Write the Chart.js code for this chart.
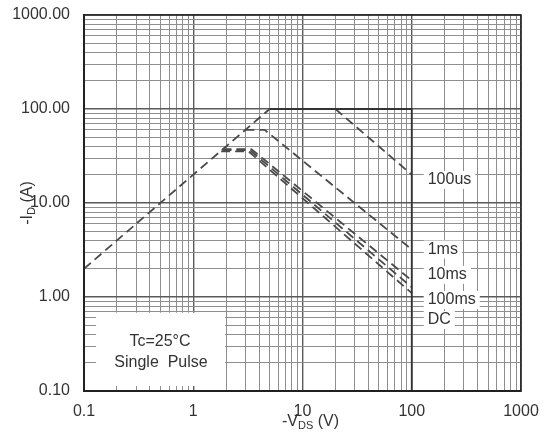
<!DOCTYPE html>
<html>
<head>
<meta charset="utf-8">
<script src="https://cdn.jsdelivr.net/npm/chart.js@4"></script>
<style>
  html, body { margin: 0; padding: 0; background: #fff; }
  #wrap { width: 546px; height: 439px; }
</style>
</head>
<body>
<div id="wrap"><canvas id="soaChart"></canvas></div>
<script>
// values
var xTickLabels = ['0.1', '1', '10', '100', '1000'];
var yTickLabels = ['0.10', '1.00', '10.00', '100.00', '1000.00'];

var limitLine = [{x: 0.1, y: 2}, {x: 5, y: 100}];          // Rds(on) limit, dashed
var boundLine = [{x: 5, y: 100}, {x: 100, y: 100}, {x: 100, y: 0.1}]; // solid edge
var us100 = [{x: 20, y: 100}, {x: 100, y: 20}];
var ms1 = [{x: 3, y: 60}, {x: 4.5, y: 60}, {x: 100, y: 3.2}];
var ms10 = [{x: 1.85, y: 37.5}, {x: 3.4, y: 37.5}, {x: 100, y: 1.5}];
var ms100 = [{x: 1.85, y: 36.5}, {x: 3.3, y: 36.5}, {x: 100, y: 1.27}];
var dcLine = [{x: 1.8, y: 35.5}, {x: 3.2, y: 35.5}, {x: 100, y: 1.1}];

var curveNames = ['100us', '1ms', '10ms', '100ms', 'DC'];
var curveLabelY = [17.6, 3.2, 1.72, 0.93, 0.57];

var noteLines = ['Tc=25\u00B0C', 'Single  Pulse'];

var FONT = "'Liberation Sans', Arial, sans-serif";
var TEXT = '#333';
var LINE = '#4a4a4a';

// log grid: 1..9 in every decade
function logGrid(lo, hi) {
    var out = [];
    for (var e = lo; e < hi; e++) {
        for (var k = 1; k < 10; k++) out.push(k * Math.pow(10, e));
    }
    out.push(Math.pow(10, hi));
    return out;
}
function isMajor(v) {
    var l = Math.log10(v);
    return Math.abs(l - Math.round(l)) < 1e-9;
}
function dashed(data) {
    return { data: data, showLine: true, borderColor: LINE, borderWidth: 1.8,
             borderDash: [9, 5], pointRadius: 0, fill: false };
}

var overlay = {
    id: 'overlay',
    afterDatasetsDraw: function(chart) {
        var c = chart.ctx, a = chart.chartArea;
        var xs = chart.scales.x, ys = chart.scales.y;
        c.save();

        // frame
        c.strokeStyle = '#222';
        c.lineWidth = 1.5;
        c.strokeRect(a.left, a.top, a.right - a.left, a.bottom - a.top);

        c.font = '16px ' + FONT;
        c.fillStyle = TEXT;
        c.textBaseline = 'middle';

        // curve names with white boxes
        c.textAlign = 'left';
        curveNames.forEach(function(name, i) {
            var px = xs.getPixelForValue(140);
            var py = ys.getPixelForValue(curveLabelY[i]);
            var w = c.measureText(name).width;
            c.fillStyle = '#fff';
            c.fillRect(px - 4, py - 9, w + 8, 18);
            c.fillStyle = TEXT;
            c.fillText(name, px, py);
        });

        // note box
        var bx0 = xs.getPixelForValue(0.129), bx1 = xs.getPixelForValue(2) - 1;
        var by0 = ys.getPixelForValue(0.68), by1 = ys.getPixelForValue(0.113);
        c.fillStyle = '#fff';
        c.fillRect(bx0, by0, bx1 - bx0, by1 - by0);
        c.fillStyle = TEXT;
        c.textAlign = 'center';
        c.fillText(noteLines[0], 160, 342);
        c.fillText(noteLines[1], 161, 363);

        // x title: -V_DS (V)
        var big = '16px ' + FONT, small = '11px ' + FONT;
        var parts = [['-V', big, 0], ['DS', small, 4], [' (V)', big, 0]];
        var tw = 0;
        parts.forEach(function(p) { c.font = p[1]; tw += c.measureText(p[0]).width; });
        var tx = (a.left + a.right) / 2 + 8 - tw / 2, ty = 422;
        c.textAlign = 'left';
        parts.forEach(function(p) {
            c.font = p[1];
            c.fillText(p[0], tx, ty + p[2]);
            tx += c.measureText(p[0]).width;
        });

        // y title: -I_D (A), rotated
        var yparts = [['-I', big, 0], ['D', small, 4], [' (A)', big, 0]];
        var th = 0;
        yparts.forEach(function(p) { c.font = p[1]; th += c.measureText(p[0]).width; });
        c.translate(28, (a.top + a.bottom) / 2);
        c.rotate(-Math.PI / 2);
        var sx = -th / 2;
        yparts.forEach(function(p) {
            c.font = p[1];
            c.fillText(p[0], sx, p[2]);
            sx += c.measureText(p[0]).width;
        });
        c.restore();
    }
};

function axis(pos, lo, hi, labels) {
    return {
        type: 'logarithmic',
        position: pos,
        min: Math.pow(10, lo),
        max: Math.pow(10, hi),
        afterBuildTicks: function(scale) {
            scale.ticks = logGrid(lo, hi).map(function(v) { return {value: v}; });
        },
        afterFit: function(scale) {
            if (pos === 'left') scale.width = 84;
            else scale.height = 48;
            // keep label overflow from shrinking the plot
            scale.paddingTop = 0; scale.paddingBottom = 0;
            scale.paddingLeft = 0; scale.paddingRight = 0;
        },
        grid: {
            drawTicks: false,
            color: function(ctx) { return isMajor(ctx.tick.value) ? '#5a5a5a' : '#8e8e8e'; },
            lineWidth: function(ctx) { return isMajor(ctx.tick.value) ? 1.4 : 1; }
        },
        border: { display: true, color: '#222', width: 2 },
        ticks: {
            autoSkip: false,
            maxRotation: 0,
            padding: pos === 'left' ? 14 : 11,
            color: TEXT,
            font: { family: FONT, size: 16 },
            callback: function(v) {
                if (!isMajor(v)) return '';
                return labels[Math.round(Math.log10(v)) - lo];
            }
        }
    };
}

new Chart(document.getElementById('soaChart'), {
    type: 'scatter',
    data: {
        datasets: [
            dashed(limitLine),
            { data: boundLine, showLine: true, borderColor: '#333', borderWidth: 1.8,
              pointRadius: 0, fill: false },
            dashed(us100),
            dashed(ms1),
            dashed(ms10),
            dashed(ms100),
            dashed(dcLine)
        ]
    },
    options: {
        responsive: true,
        maintainAspectRatio: false,
        animation: false,
        layout: { padding: { top: 15, right: 25, left: 0, bottom: 0 } },
        plugins: { legend: { display: false }, tooltip: { enabled: false } },
        scales: {
            x: axis('bottom', -1, 3, xTickLabels),
            y: axis('left', -1, 3, yTickLabels)
        }
    },
    plugins: [overlay]
});
</script>
</body>
</html>
